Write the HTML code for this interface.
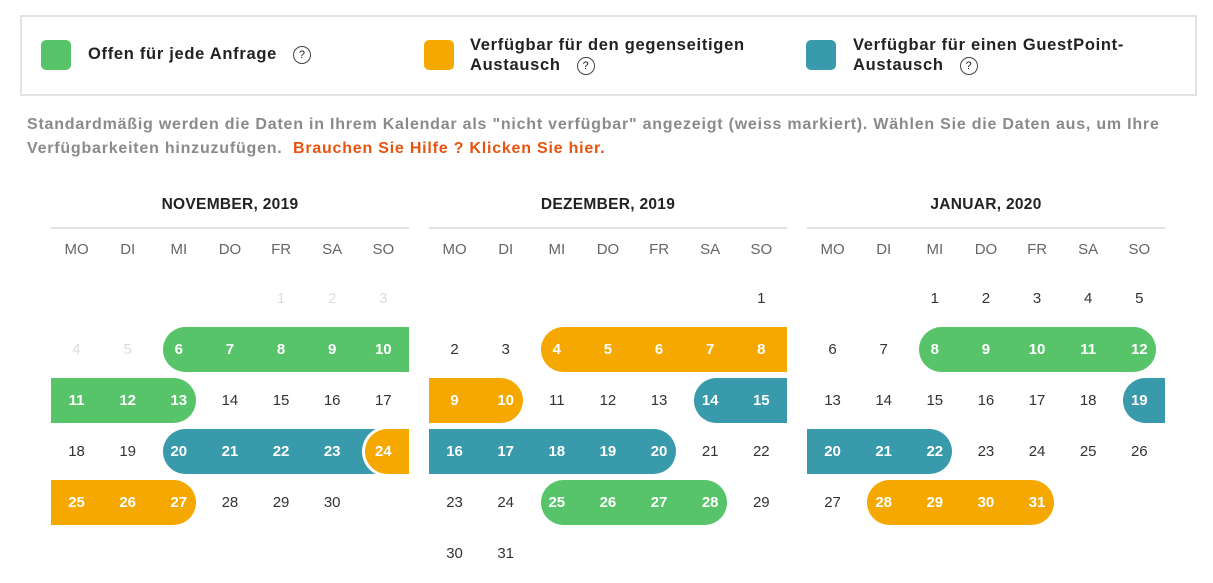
<!DOCTYPE html>
<html><head><meta charset="utf-8"><style>
*{margin:0;padding:0;box-sizing:border-box}
body{width:1213px;height:583px;background:#fff;font-family:"Liberation Sans",sans-serif;position:relative;overflow:hidden;color:#333}
.legend{position:absolute;left:20px;top:15px;width:1177px;height:81px;border:2px solid #e2e2e2}
.sq{position:absolute;width:30px;height:30px;border-radius:5px}
.lt{position:absolute;font-size:16.5px;color:#222;line-height:20px;letter-spacing:0.7px}
.q{display:inline-block;width:18px;height:18px;border:1px solid #444;border-radius:50%;font-size:11px;text-align:center;line-height:16px;vertical-align:middle;margin-left:16px;font-weight:normal;letter-spacing:0}
.p{position:absolute;left:27px;top:113px;font-size:16px;font-weight:bold;color:#8a8a8a;line-height:24px;width:1190px;letter-spacing:0.78px}
.p span{color:#e8530e}
.m{position:absolute;top:190px;width:358px;height:393px}
.t{position:absolute;left:0;top:6px;width:100%;text-align:center;font-weight:bold;font-size:15.5px;color:#222;letter-spacing:0.3px}
.ln{position:absolute;left:0;top:37px;width:100%;height:2px;background:#e2e2e2}
.r{position:absolute;left:0;width:358px;height:51px;display:flex}
.r>div.c{width:51.14px;text-align:center;line-height:51px;font-size:15px;position:relative;z-index:2;color:#333}
.r.wd>div.c{color:#666;font-size:15px;line-height:20px}
.r>div.c.g{color:#ddd}.r>div.c.w{color:#fff;font-weight:bold}
.b{position:absolute;top:3px;height:45px;z-index:1}
.G{background:#57c46a}.O{background:#f5a800}.T{background:#389aaa}
.L{border-radius:22.5px 0 0 22.5px}.R{border-radius:0 22.5px 22.5px 0}.LR{border-radius:22.5px}
</style></head><body>
<div class="legend"></div>
<div class="sq G" style="left:41px;top:40px"></div>
<div class="lt" style="left:88px;top:44px;font-weight:bold">Offen für jede Anfrage<span class="q">?</span></div>
<div class="sq O" style="left:424px;top:40px"></div>
<div class="lt" style="left:470px;top:35px;font-weight:bold">Verfügbar für den gegenseitigen<br>Austausch<span class="q">?</span></div>
<div class="sq T" style="left:806px;top:40px"></div>
<div class="lt" style="left:853px;top:35px;font-weight:bold">Verfügbar für einen GuestPoint-<br>Austausch<span class="q">?</span></div>
<div class="p">Standardmäßig werden die Daten in Ihrem Kalendar als "nicht verfügbar" angezeigt (weiss markiert). Wählen Sie die Daten aus, um Ihre<br>Verfügbarkeiten hinzuzufügen. &nbsp;<span>Brauchen Sie Hilfe ? Klicken Sie hier.</span></div>

<!-- NOVEMBER -->
<div class="m" style="left:51px">
<div class="t">NOVEMBER, 2019</div><div class="ln"></div>
<div class="r wd" style="top:50px"><div class="c">MO</div><div class="c">DI</div><div class="c">MI</div><div class="c">DO</div><div class="c">FR</div><div class="c">SA</div><div class="c">SO</div></div>
<div class="r" style="top:82.5px"><div class="c"></div><div class="c"></div><div class="c"></div><div class="c"></div><div class="c g">1</div><div class="c g">2</div><div class="c g">3</div></div>
<div class="r" style="top:133.5px"><div class="b G L" style="left:112px;width:246px"></div><div class="c g">4</div><div class="c g">5</div><div class="c w">6</div><div class="c w">7</div><div class="c w">8</div><div class="c w">9</div><div class="c w">10</div></div>
<div class="r" style="top:184.5px"><div class="b G R" style="left:0;width:145px"></div><div class="c w">11</div><div class="c w">12</div><div class="c w">13</div><div class="c">14</div><div class="c">15</div><div class="c">16</div><div class="c">17</div></div>
<div class="r" style="top:235.5px"><div class="b T L" style="left:112px;width:221px"></div><div class="b O" style="left:311px;width:47px;top:0;height:51px;border:3px solid #fff;border-right:0;border-radius:25.5px 0 0 25.5px;z-index:1"></div><div class="c">18</div><div class="c">19</div><div class="c w">20</div><div class="c w">21</div><div class="c w">22</div><div class="c w">23</div><div class="c w">24</div></div>
<div class="r" style="top:286.5px"><div class="b O R" style="left:0;width:145px"></div><div class="c w">25</div><div class="c w">26</div><div class="c w">27</div><div class="c">28</div><div class="c">29</div><div class="c">30</div><div class="c"></div></div>
</div>

<!-- DEZEMBER -->
<div class="m" style="left:429px">
<div class="t">DEZEMBER, 2019</div><div class="ln"></div>
<div class="r wd" style="top:50px"><div class="c">MO</div><div class="c">DI</div><div class="c">MI</div><div class="c">DO</div><div class="c">FR</div><div class="c">SA</div><div class="c">SO</div></div>
<div class="r" style="top:82.5px"><div class="c"></div><div class="c"></div><div class="c"></div><div class="c"></div><div class="c"></div><div class="c"></div><div class="c">1</div></div>
<div class="r" style="top:133.5px"><div class="b O L" style="left:112px;width:246px"></div><div class="c">2</div><div class="c">3</div><div class="c w">4</div><div class="c w">5</div><div class="c w">6</div><div class="c w">7</div><div class="c w">8</div></div>
<div class="r" style="top:184.5px"><div class="b O R" style="left:0;width:94px"></div><div class="b T L" style="left:265px;width:93px"></div><div class="c w">9</div><div class="c w">10</div><div class="c">11</div><div class="c">12</div><div class="c">13</div><div class="c w">14</div><div class="c w">15</div></div>
<div class="r" style="top:235.5px"><div class="b T R" style="left:0;width:247px"></div><div class="c w">16</div><div class="c w">17</div><div class="c w">18</div><div class="c w">19</div><div class="c w">20</div><div class="c">21</div><div class="c">22</div></div>
<div class="r" style="top:286.5px"><div class="b G LR" style="left:112px;width:186px"></div><div class="c">23</div><div class="c">24</div><div class="c w">25</div><div class="c w">26</div><div class="c w">27</div><div class="c w">28</div><div class="c">29</div></div>
<div class="r" style="top:337.5px"><div class="c">30</div><div class="c">31</div></div>
</div>

<!-- JANUAR -->
<div class="m" style="left:807px">
<div class="t">JANUAR, 2020</div><div class="ln"></div>
<div class="r wd" style="top:50px"><div class="c">MO</div><div class="c">DI</div><div class="c">MI</div><div class="c">DO</div><div class="c">FR</div><div class="c">SA</div><div class="c">SO</div></div>
<div class="r" style="top:82.5px"><div class="c"></div><div class="c"></div><div class="c">1</div><div class="c">2</div><div class="c">3</div><div class="c">4</div><div class="c">5</div></div>
<div class="r" style="top:133.5px"><div class="b G LR" style="left:112px;width:237px"></div><div class="c">6</div><div class="c">7</div><div class="c w">8</div><div class="c w">9</div><div class="c w">10</div><div class="c w">11</div><div class="c w">12</div></div>
<div class="r" style="top:184.5px"><div class="b T L" style="left:316px;width:42px"></div><div class="c">13</div><div class="c">14</div><div class="c">15</div><div class="c">16</div><div class="c">17</div><div class="c">18</div><div class="c w">19</div></div>
<div class="r" style="top:235.5px"><div class="b T R" style="left:0;width:145px"></div><div class="c w">20</div><div class="c w">21</div><div class="c w">22</div><div class="c">23</div><div class="c">24</div><div class="c">25</div><div class="c">26</div></div>
<div class="r" style="top:286.5px"><div class="b O LR" style="left:60px;width:187px"></div><div class="c">27</div><div class="c w">28</div><div class="c w">29</div><div class="c w">30</div><div class="c w">31</div><div class="c"></div><div class="c"></div></div>
</div>
</body></html>
